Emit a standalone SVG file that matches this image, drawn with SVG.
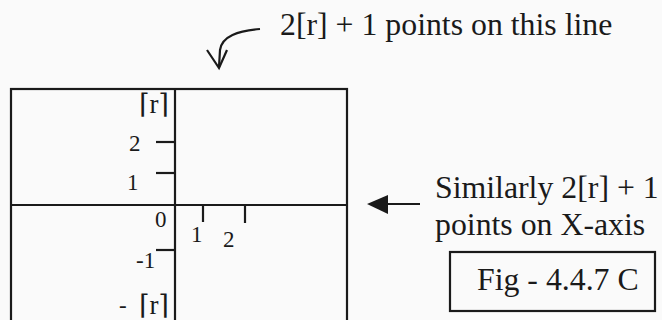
<svg xmlns="http://www.w3.org/2000/svg" width="662" height="320" viewBox="0 0 662 320">
<style>
.ln{stroke:#1a1a1a;stroke-width:2.2;fill:none}
.t{font-family:"Liberation Serif","DejaVu Serif",serif;fill:#1a1a1a}
.big{font-size:31.8px}
.ax{font-size:23px}
.ceil{font-size:27px}
</style>
<rect width="662" height="320" fill="#fafafa"/>
<g id="grid">
<rect class="ln" x="11" y="89" width="336" height="250"/>
<line class="ln" x1="175" y1="89" x2="175" y2="330"/>
<line class="ln" x1="11" y1="205" x2="347" y2="205"/>
</g>
<g id="ticks">
<line class="ln" x1="156" y1="142" x2="175" y2="142"/>
<line class="ln" x1="156" y1="173" x2="175" y2="173"/>
<line class="ln" x1="156" y1="250" x2="175" y2="250"/>
<line class="ln" x1="203" y1="205" x2="203" y2="222"/>
<line class="ln" x1="245" y1="205" x2="245" y2="223"/>
</g>
<g id="axis-labels" class="t ax">
<text class="ceil" x="169" y="113" text-anchor="end">⌈r⌉</text>
<text x="129" y="151">2</text>
<text x="127" y="190">1</text>
<text x="155" y="227">0</text>
<text x="136" y="268">-1</text>
<text x="119" y="313">-</text>
<text class="ceil" x="169" y="314" text-anchor="end">⌈r⌉</text>
<text x="191" y="242">1</text>
<text x="223" y="247">2</text>
</g>
<g id="connectors">
<path class="ln" d="M260,29 C238,31 222,36 220,50 L219,67"/>
<path class="ln" d="M207,50 L219,68 L227,50"/>
<line class="ln" x1="385" y1="204" x2="420" y2="204" stroke-width="3"/>
<polygon points="367,204 388,195 388,214" fill="#1a1a1a"/>
</g>
<g id="note-top" class="t big">
<text x="280" y="35">2[r] + 1 points on this line</text>
</g>
<g id="note-right" class="t big">
<text x="435" y="198">Similarly 2[r] + 1</text>
<text x="435" y="235">points on X-axis</text>
</g>
<g id="fig-label">
<rect class="ln" x="450" y="252" width="205" height="59"/>
<text class="t big" x="477" y="290">Fig - 4.4.7 C</text>
</g>
</svg>
